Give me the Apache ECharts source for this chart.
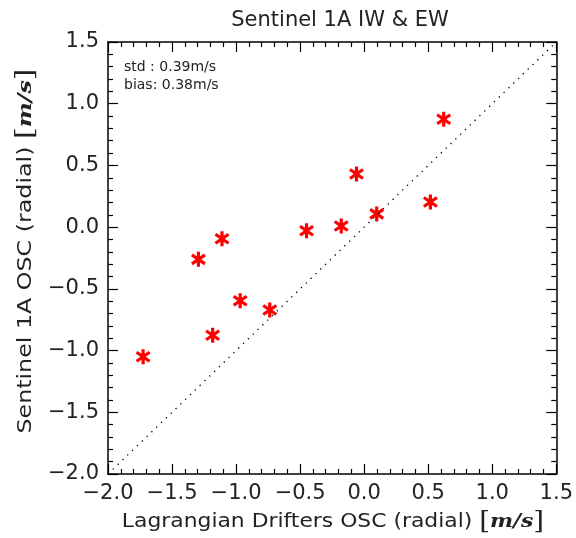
<!DOCTYPE html>
<html>
<head>
<meta charset="utf-8">
<script src="https://cdn.jsdelivr.net/npm/echarts@6/dist/echarts.min.js"></script>
<style>html,body{margin:0;padding:0;background:#fff;}#c{width:576px;height:538px;}</style>
</head>
<body>
<div id="c"></div>
<script>
var drifterX = [-1.726, -1.294, -1.110, -1.183, -0.968, -0.737, -0.450, -0.179, 0.098, -0.060, 0.621, 0.517];
var sentinelY = [-1.050, -0.261, -0.094, -0.876, -0.596, -0.671, -0.029, 0.009, 0.107, 0.431, 0.874, 0.204];
var oneToOne = [[-2.0, -2.0], [1.5, 1.5]];
var statsLines = ['std : 0.39m/s', 'bias: 0.38m/s'];
var titleText = 'Sentinel 1A IW & EW';
var xTitle = 'Lagrangian Drifters OSC (radial)';
var yTitle = 'Sentinel 1A OSC (radial)';

var pts = drifterX.map(function (x, i) { return [x, sentinelY[i]]; });
var font = '"DejaVu Sans", sans-serif';
var txtColor = '#222';
function fmt(v) { var s = Math.abs(v).toFixed(1); return (v < 0 ? '\u2212' : '') + s; }

function axisCommon(show, pos) {
  return {
    type: 'value', min: -2, max: 1.5, interval: 0.5, position: pos,
    axisLine: { show: true, onZero: false, lineStyle: { color: '#000', width: 1.5 } },
    axisTick: { show: true, inside: true, length: 10, lineStyle: { color: '#000', width: 1.2 } },
    minorTick: { show: true, splitNumber: 5, length: 5, lineStyle: { color: '#000', width: 1.2 } },
    splitLine: { show: false },
    axisLabel: { show: show, formatter: fmt, color: txtColor, fontFamily: font, fontSize: 21, margin: 9 }
  };
}

var chart = echarts.init(document.getElementById('c'));
var rich = {
  b: { fontFamily: '"DejaVu Serif", serif', fontSize: 24, color: txtColor },
  m: { fontFamily: '"DejaVu Serif", serif', fontStyle: 'italic', fontWeight: 'bold', fontSize: 19, color: txtColor }
};
chart.setOption({
  animation: false,
  grid: { left: 108, right: 17, top: 42, bottom: 64 },
  title: {
    text: titleText, left: 335, top: 5, textAlign: 'center',
    textStyle: { fontFamily: font, fontSize: 21, fontWeight: 'normal', color: txtColor }
  },
  xAxis: [axisCommon(true, 'bottom'), axisCommon(false, 'top')],
  yAxis: [axisCommon(true, 'left'), axisCommon(false, 'right')],
  series: [
    {
      type: 'line', data: oneToOne, showSymbol: false, symbol: 'none',
      lineStyle: { color: '#000', width: 1.3, type: [1.3, 5.4] }, silent: true
    },
    {
      type: 'scatter', data: pts, symbolSize: 15, symbolKeepAspect: true,
      symbol: 'path://M0,-1L0,1M-0.87,-0.6L0.87,0.6M-0.87,0.6L0.87,-0.6',
      itemStyle: { color: '#ff0000', borderColor: '#ff0000', borderWidth: 3.2, opacity: 1 }
    }
  ],
  graphic: [
    { type: 'text', left: 124, top: 58, style: { text: statsLines.join('\n'), font: '14px ' + font, fill: txtColor, lineHeight: 18 } },
    { type: 'text', x: 333, y: 522, scaleX: 1.15, style: { text: xTitle + ' {b|[}{m|m/s}{b|]}', font: '19px ' + font, fill: txtColor, align: 'center', verticalAlign: 'middle', rich: rich } },
    { type: 'text', x: 26, y: 251, rotation: Math.PI / 2, scaleX: 1.25, style: { text: yTitle + ' {b|[}{m|m/s}{b|]}', font: '19px ' + font, fill: txtColor, align: 'center', verticalAlign: 'middle', rich: rich } }
  ]
});
</script>
</body>
</html>
